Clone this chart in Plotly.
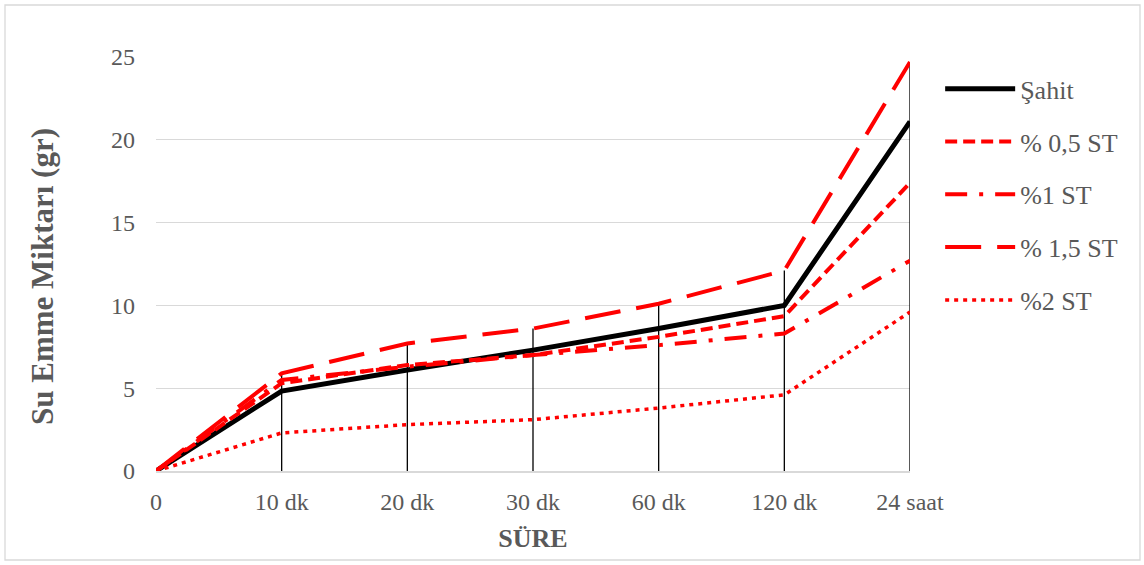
import plotly.graph_objects as go

categories = ["0", "10 dk", "20 dk", "30 dk", "60 dk", "120 dk", "24 saat"]
sahit = [0, 4.83, 6.1, 7.3, 8.6, 10.0, 21.1]
st_05 = [0, 5.3, 6.4, 7.0, 8.1, 9.35, 17.4]
st_1 = [0, 5.5, 6.3, 7.0, 7.6, 8.3, 12.7]
st_15 = [0, 5.9, 7.7, 8.6, 10.1, 12.1, 24.7]
st_2 = [0, 2.3, 2.8, 3.1, 3.8, 4.6, 9.6]
y_ticks = [0, 5, 10, 15, 20, 25]

FONT = "Liberation Serif"
GREY = "#595959"

series = [
    ("Şahit", sahit, dict(color="black", width=5, dash="solid")),
    ("% 0,5 ST", st_05, dict(color="#ff0000", width=4, dash="12px,6px")),
    ("%1 ST", st_1, dict(color="#ff0000", width=4, dash="22px,12px,4px,12px")),
    ("% 1,5 ST", st_15, dict(color="#ff0000", width=4, dash="36px,16px")),
    ("%2 ST", st_2, dict(color="#ff0000", width=3.5, dash="4px,5px")),
]

fig = go.Figure()

# drop lines from the axis to the highest series at each category
maxvals = [max(v) for v in zip(sahit, st_05, st_1, st_15, st_2)]
dx, dy = [], []
for c, m in zip(categories, maxvals):
    dx += [c, c, None]
    dy += [0, m, None]
fig.add_trace(go.Scatter(x=dx, y=dy, mode="lines", line=dict(color="black", width=1.3),
                         showlegend=False, hoverinfo="skip"))

for i, (name, vals, ln) in enumerate(series):
    fig.add_trace(go.Scatter(x=categories, y=vals, mode="lines", name=name, line=ln,
                             legendgroup=str(i)))

L, R, T, B = 156, 234, 57, 94
W, H = 1144, 565
pw, ph = W - L - R, H - T - B

fig.update_layout(
    width=W, height=H,
    margin=dict(l=L, r=R, t=T, b=B),
    paper_bgcolor="white", plot_bgcolor="white",
    font=dict(family=FONT, color=GREY, size=24),
    showlegend=True,
    legend=dict(x=1.04, y=0.98, xanchor="left", yanchor="top",
                font=dict(family=FONT, size=26, color=GREY),
                itemwidth=70, tracegroupgap=16, traceorder="grouped",
                bgcolor="rgba(0,0,0,0)"),
    xaxis=dict(type="category", categoryorder="array", categoryarray=categories,
               range=[0, len(categories) - 1], showgrid=False, zeroline=False,
               showline=True, linecolor="#d9d9d9", linewidth=1.5,
               ticks="", tickfont=dict(family=FONT, size=24, color=GREY),
               ticklabelstandoff=8,
               title=dict(text="<b>SÜRE</b>", font=dict(family=FONT, size=26, color=GREY),
                          standoff=15)),
    yaxis=dict(range=[0, 25], tickvals=y_ticks, showgrid=True, gridcolor="#d9d9d9",
               gridwidth=1, zeroline=False, showline=False, ticks="",
               tickfont=dict(family=FONT, size=24, color=GREY), ticklabelstandoff=20),
    annotations=[dict(text="<b>Su Emme Miktarı (gr)</b>", textangle=-90,
                      xref="paper", yref="paper",
                      x=(42 - L) / pw, y=(H - B - 277) / ph,
                      xanchor="center", yanchor="middle", showarrow=False,
                      font=dict(family=FONT, size=31, color=GREY))],
    shapes=[dict(type="rect", xref="paper", yref="paper",
                 x0=(5 - L) / pw, x1=(1140 - L) / pw,
                 y0=(H - B - 560) / ph, y1=(H - B - 5) / ph,
                 line=dict(color="#d9d9d9", width=1.3), fillcolor="rgba(0,0,0,0)", layer="below")],
)

fig.write_html("out.html", config={"displayModeBar": False},
               post_script="document.body.style.margin='0px';")
